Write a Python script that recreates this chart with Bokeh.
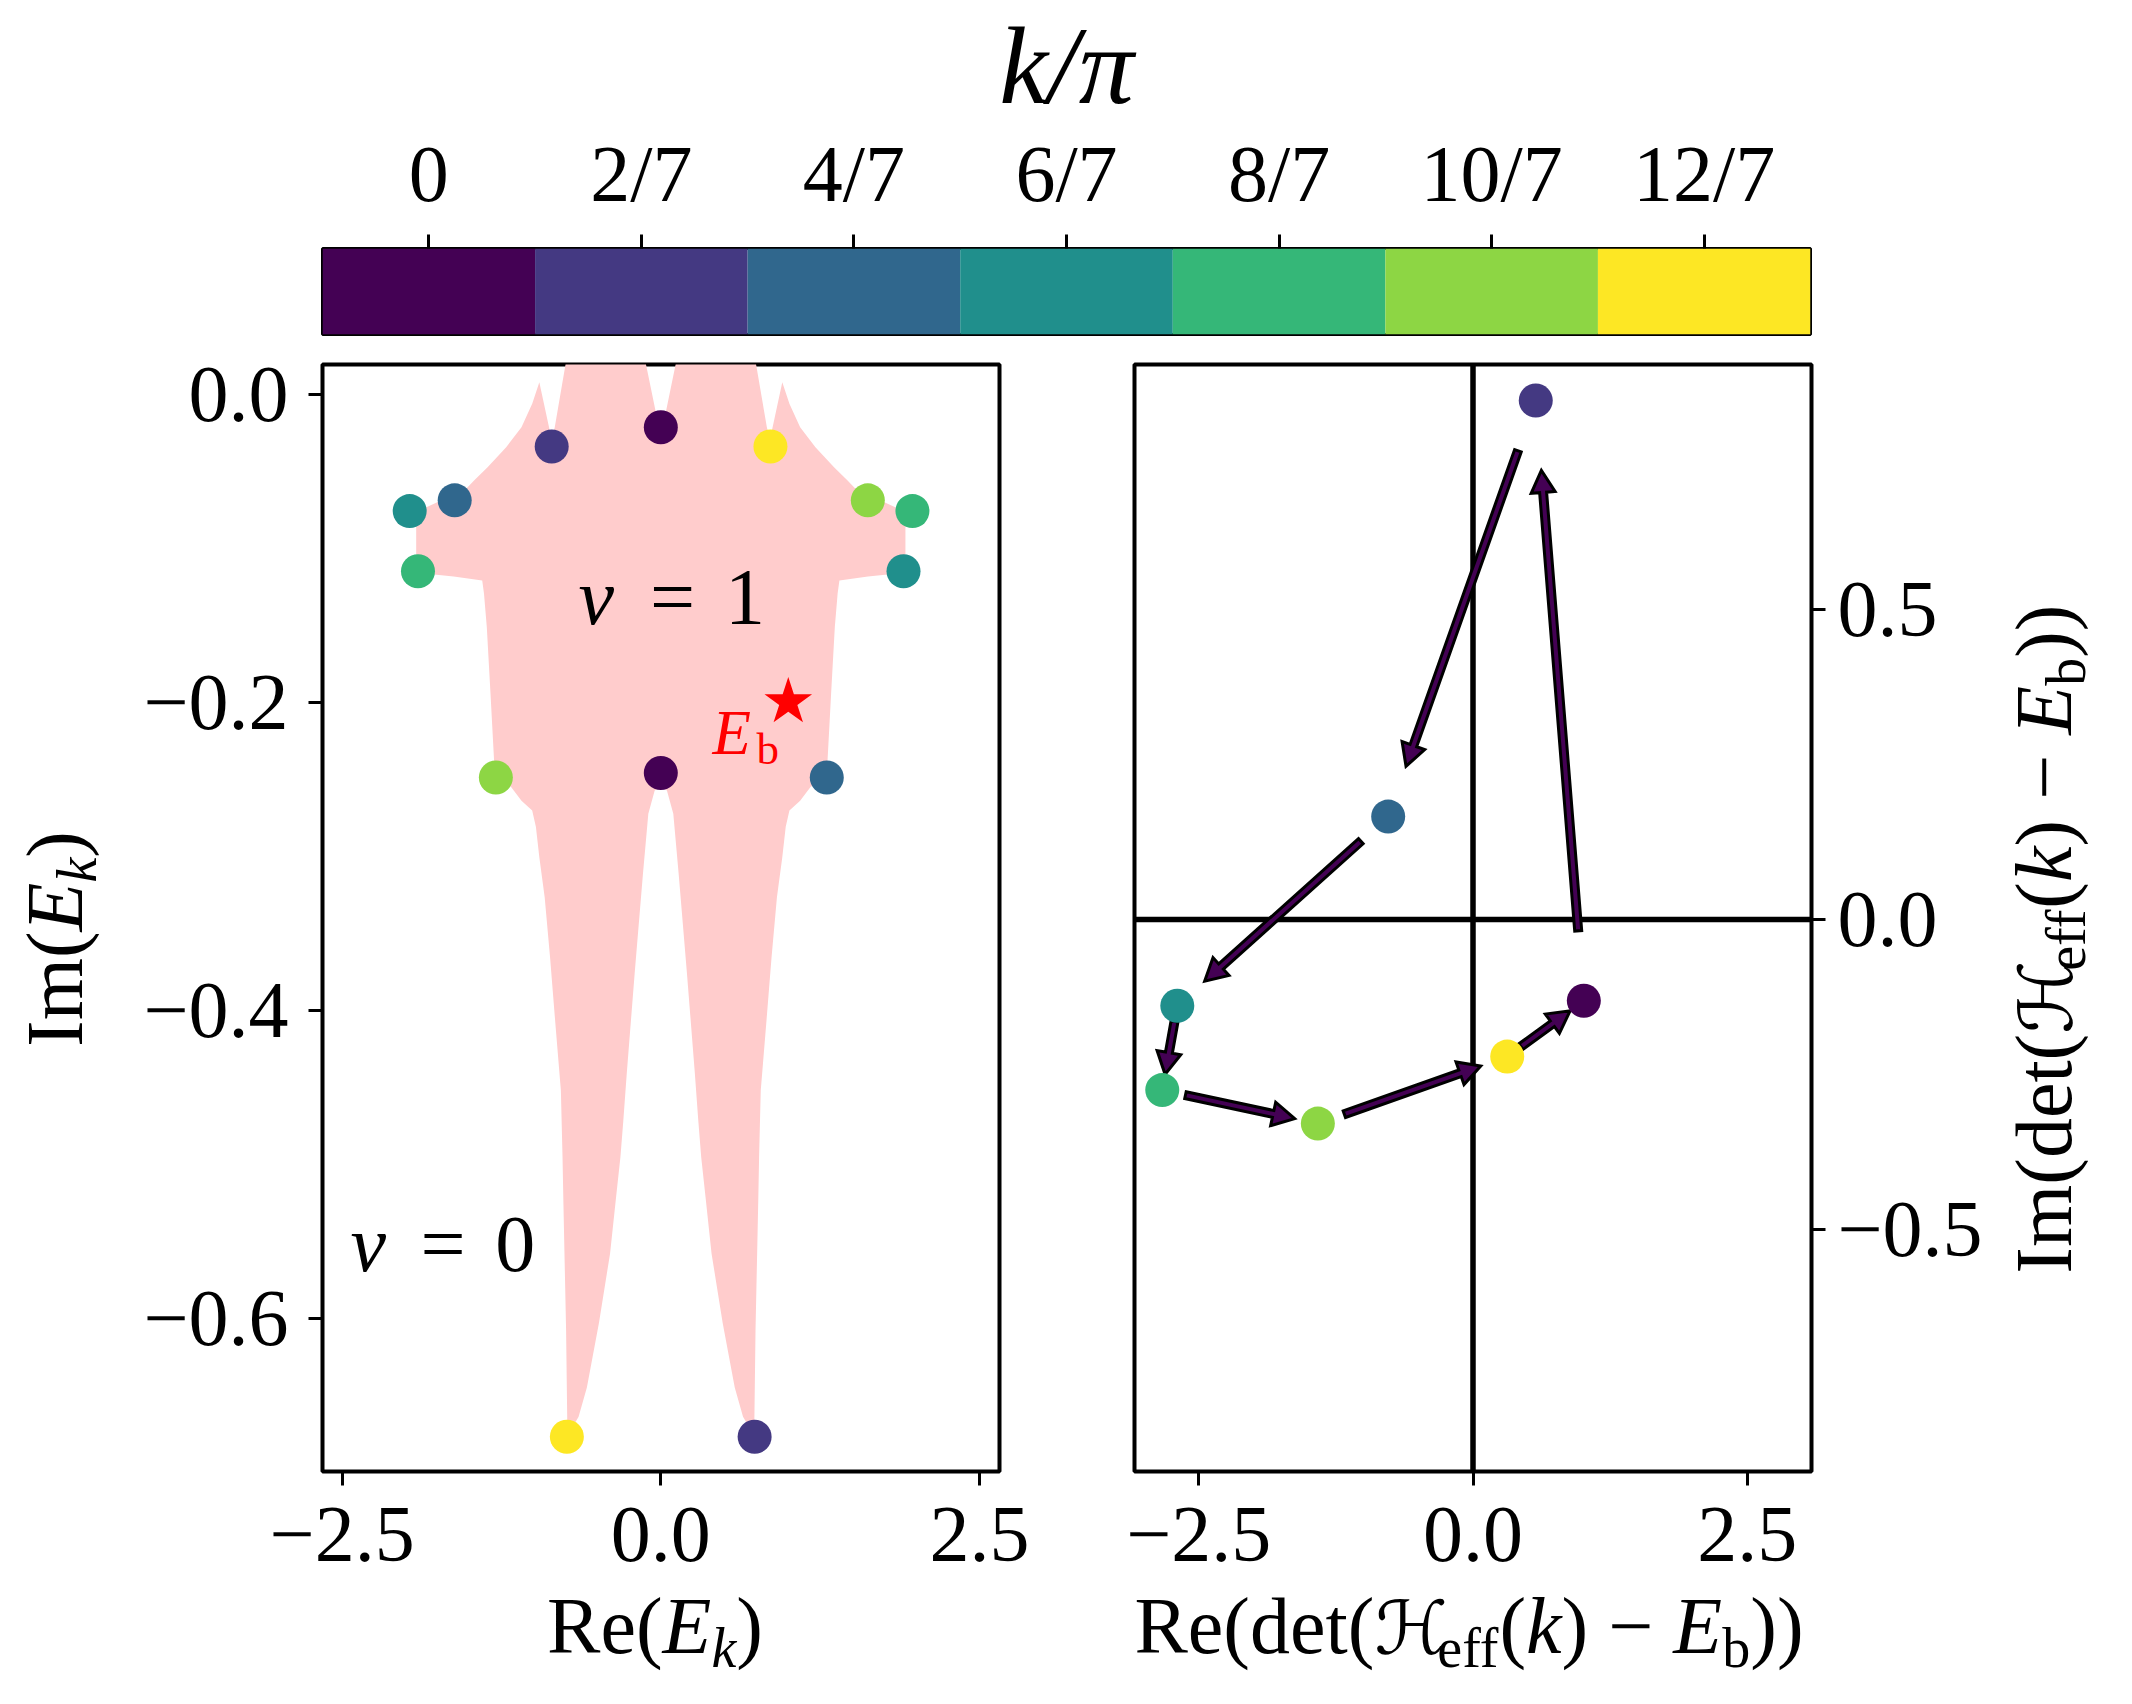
import math
from bokeh.plotting import figure
from bokeh.layouts import column, row
from bokeh.models import Range1d, FixedTicker, Label, Span
from bokeh.palettes import Viridis7
from bokeh.embed import file_html
from bokeh.resources import INLINE

# ---------------- data ----------------
k_over_pi = [0, 2/7, 4/7, 6/7, 8/7, 10/7, 12/7]
k_tick_labels = ["0", "2/7", "4/7", "6/7", "8/7", "10/7", "12/7"]

# spectrum E_k, two bands, same k order as k_over_pi
band_a_re = [0.0, -0.856, -1.617, -1.970, 1.974, 1.624, 0.860]
band_a_im = [-0.0215, -0.034, -0.069, -0.076, -0.076, -0.069, -0.034]
band_b_re = [0.0, 0.736, 1.302, 1.904, -1.905, -1.294, -0.737]
band_b_im = [-0.246, -0.677, -0.249, -0.115, -0.115, -0.249, -0.677]

# reference energy
E_b_re = 1.0
E_b_im = -0.2

# det(H_eff(k) - E_b)
det_re = [1.010, 0.572, -0.773, -2.695, -2.832, -1.414, 0.312]
det_im = [-0.131, 0.837, 0.166, -0.139, -0.275, -0.329, -0.221]

# winding-number-1 region (left half of its outline; the region is mirror symmetric in Re)
region_re_left = [0.0, -0.042, -0.112, -0.168, -0.704, -0.751, -0.832, -0.856, -0.877, -0.953,
                  -1.009, -1.093, -1.213, -1.359, -1.465, -1.527, -1.639, -1.835, -1.919, -1.919,
                  -1.905, -1.779, -1.625, -1.401, -1.387, -1.365, -1.336, -1.308, -1.294, -1.176,
                  -1.093, -1.009, -0.980, -0.953, -0.911, -0.869, -0.827, -0.784, -0.771, -0.765,
                  -0.743, -0.734, -0.737, -0.645, -0.580, -0.485, -0.398, -0.351, -0.317, -0.294,
                  -0.267, -0.205, -0.140, -0.098, -0.048, 0.0]
region_im_left = [-0.022, -0.0106, 0.0175, 0.04, 0.04, 0.0175, -0.0215, -0.030, -0.0215, 0.0077,
                  -0.0063, -0.0215, -0.0345, -0.0475, -0.0561, -0.0615, -0.0658, -0.0734, -0.0767, -0.108,
                  -0.1167, -0.1171, -0.1184, -0.121, -0.1297, -0.1514, -0.1946, -0.238, -0.249, -0.255,
                  -0.264, -0.2704, -0.281, -0.3007, -0.3267, -0.3656, -0.4089, -0.4522, -0.4955, -0.5215,
                  -0.608, -0.6665, -0.677, -0.664, -0.645, -0.603, -0.558, -0.5215, -0.4955, -0.4717,
                  -0.441, -0.376, -0.3115, -0.2725, -0.2574, -0.2552]

left_xticks = [-2.5, 0.0, 2.5]
left_yticks = [-0.6, -0.4, -0.2, 0.0]
right_xticks = [-2.5, 0.0, 2.5]
right_yticks = [-0.5, 0.0, 0.5]

# ---------------- style / layout ----------------
FONT = "Liberation Serif"
PINK = "#FFCCCC"
ARROW_FILL = Viridis7[0]
CB_W, CB_H = 1488, 86
PW, PH = 677, 1107
BOTTOM = 106
XLAB_H = 127
L_XR = (-2.654, 2.657)
L_YR = (-0.6996, 0.0192)
R_XR = (-3.085, 3.085)
R_YR = (-0.890, 0.895)
BASE_C = 0.375   # label anchor sits this many em above the rendered baseline
DOT = 34

REG = {'R': .667, 'e': .444, '(': .333, ')': .333, 'I': .333, 'm': .778, 'd': .5, 't': .278,
       'f': .333, 'b': .5, ' ': .25, '\u2212': .564, 'k': .5, 'E': .611}
ITA = {'E': .611, 'k': .444}


def tick_text(v, nd=1):
    s = f"{abs(v):.{nd}f}"
    return ("\u2212" + s) if v < -1e-12 else s


def style_axes(p):
    p.grid.visible = False
    p.outline_line_color = "black"
    p.outline_line_width = 4
    p.background_fill_color = "white"
    p.border_fill_color = "white"
    for ax in p.axis:
        ax.axis_line_color = None
        ax.major_tick_line_color = "black"
        ax.major_tick_line_width = 3
        ax.major_tick_out = 14
        ax.major_tick_in = 0
        ax.minor_tick_line_color = None
        ax.major_label_text_font = FONT
        ax.major_label_text_font_size = "80px"
        ax.major_label_text_color = "black"


def text_fig(w, h):
    f = figure(frame_width=w, frame_height=h, x_range=Range1d(0, w), y_range=Range1d(0, h),
               x_axis_location=None, y_axis_location=None, output_backend="svg",
               toolbar_location=None, min_border=0)
    f.grid.visible = False
    f.outline_line_color = None
    f.background_fill_color = "white"
    f.border_fill_color = "white"
    return f


def math_label(p, segs, x, y, angle=0.0):
    """segs: (text, style, size_px, drop_px, font, width_em or None); x, y = baseline centre (px)."""
    widths = []
    for text, style, size, drop, font, wem in segs:
        if wem is not None:
            widths.append(wem * size)
        else:
            tab = ITA if style == "italic" else REG
            widths.append(sum(tab.get(c, 0.5) for c in text) * size)
    pos = -sum(widths) / 2
    for (text, style, size, drop, font, wem), w in zip(segs, widths):
        if angle == 0:
            lx, ly = x + pos, y - drop + BASE_C * size
        else:
            lx, ly = x + drop - BASE_C * size, y + pos
        p.add_layout(Label(x=lx, y=ly, text=text,
                           text_font=font, text_font_size=f"{size}px", text_font_style=style,
                           text_color="black", text_align="left", text_baseline="alphabetic",
                           angle=angle))
        pos += w


def data_label(p, text, x, y, size, sy, style="normal", color="black", align="center"):
    p.add_layout(Label(x=x, y=y + BASE_C * size / sy, text=text, text_font=FONT,
                       text_font_size=f"{size}px", text_font_style=style, text_color=color,
                       text_align=align, text_baseline="alphabetic"))


N, I = "normal", "italic"
S = 80
SS = 56
DROP = 13

# ---------------- colour bar ----------------
cb = figure(frame_width=CB_W, frame_height=CB_H, x_range=Range1d(-1/7, 13/7), y_range=Range1d(0, 1),
            x_axis_location="above", output_backend="svg", toolbar_location=None,
            min_border_left=322, min_border_right=322, min_border_top=248, min_border_bottom=15)
half = 1 / 7
cb.quad(left=[k - half for k in k_over_pi], right=[k + half for k in k_over_pi],
        bottom=0, top=1, fill_color=list(Viridis7), line_color=None)
style_axes(cb)
cb.outline_line_width = 3
cb.yaxis.visible = False
cb.xaxis.ticker = FixedTicker(ticks=k_over_pi)
cb.xaxis.major_label_overrides = {k: t for k, t in zip(k_over_pi, k_tick_labels)}
cb.xaxis.major_label_standoff = 17
cb.xaxis.axis_label = "k/\u03c0"
cb.xaxis.axis_label_text_font = FONT
cb.xaxis.axis_label_text_font_style = "italic"
cb.xaxis.axis_label_text_font_size = "110px"
cb.xaxis.axis_label_text_color = "black"
cb.xaxis.axis_label_standoff = 0

# ---------------- left panel: spectrum ----------------
left = figure(frame_width=PW, frame_height=PH, x_range=Range1d(*L_XR), y_range=Range1d(*L_YR),
              output_backend="svg", toolbar_location=None,
              min_border_left=194, min_border_right=67, min_border_top=15, min_border_bottom=BOTTOM)
style_axes(left)
reg_x = region_re_left + [-v for v in reversed(region_re_left)][1:-1]
reg_y = region_im_left + list(reversed(region_im_left))[1:-1]
left.patch(reg_x, reg_y, fill_color=PINK, line_color=None)
left.scatter(band_a_re, band_a_im, size=DOT, fill_color=list(Viridis7), line_color=None)
left.scatter(band_b_re, band_b_im, size=DOT, fill_color=list(Viridis7), line_color=None)
left.scatter([E_b_re], [E_b_im], marker="star", size=50, fill_color="red", line_color=None)
left.xaxis.ticker = FixedTicker(ticks=left_xticks)
left.xaxis.major_label_overrides = {v: tick_text(v) for v in left_xticks}
left.yaxis.ticker = FixedTicker(ticks=left_yticks)
left.yaxis.major_label_overrides = {v: tick_text(v) for v in left_yticks}
left.xaxis.major_label_standoff = 22
left.yaxis.major_label_standoff = 20

lsx = PW / (L_XR[1] - L_XR[0])
lsy = PH / (L_YR[1] - L_YR[0])
# E_b label
data_label(left, "E", 0.405, -0.2353, 63, lsy, style=I, color="red", align="left")
data_label(left, "b", 0.405 + 44 / lsx, -0.2353 - 9 / lsy, 45, lsy, color="red", align="left")
# winding numbers
data_label(left, "\u03bd", -0.507, -0.1514, 80, lsy, style=I)
data_label(left, "=", 0.092, -0.1514, 80, lsy)
data_label(left, "1", 0.660, -0.1514, 80, lsy)
data_label(left, "\u03bd", -2.296, -0.5714, 80, lsy, style=I)
data_label(left, "=", -1.709, -0.5714, 80, lsy)
data_label(left, "0", -1.141, -0.5714, 80, lsy)

# ---------------- right panel: determinant winding ----------------
right = figure(frame_width=PW, frame_height=PH, x_range=Range1d(*R_XR), y_range=Range1d(*R_YR),
               y_axis_location="right", output_backend="svg", toolbar_location=None,
               min_border_left=68, min_border_right=180, min_border_top=15, min_border_bottom=BOTTOM)
style_axes(right)
right.add_layout(Span(location=0, dimension="height", line_color="black", line_width=5.5, level="underlay"))
right.add_layout(Span(location=0, dimension="width", line_color="black", line_width=5.5, level="underlay"))

rsx = PW / (R_XR[1] - R_XR[0])
rsy = PH / (R_YR[1] - R_YR[0])
W_SHAFT, W_HEAD, L_HEAD = 3.5, 12.0, 22.0
axs, ays = [], []
n = len(det_re)
for i in range(n):
    j = (i + 1) % n
    X0, Y0 = det_re[i] * rsx, det_im[i] * rsy
    X1, Y1 = det_re[j] * rsx, det_im[j] * rsy
    dx, dy = X1 - X0, Y1 - Y0
    L = math.hypot(dx, dy)
    ux, uy = dx / L, dy / L
    off = 7 + 0.105 * L
    tx, ty = X0 + ux * off, Y0 + uy * off
    hx, hy = X1 - ux * off, Y1 - uy * off
    nx, ny = -uy, ux
    bx, by = hx - ux * L_HEAD, hy - uy * L_HEAD
    pts = [(tx + nx * W_SHAFT, ty + ny * W_SHAFT), (bx + nx * W_SHAFT, by + ny * W_SHAFT),
           (bx + nx * W_HEAD, by + ny * W_HEAD), (hx, hy),
           (bx - nx * W_HEAD, by - ny * W_HEAD), (bx - nx * W_SHAFT, by - ny * W_SHAFT),
           (tx - nx * W_SHAFT, ty - ny * W_SHAFT)]
    axs.append([q[0] / rsx for q in pts])
    ays.append([q[1] / rsy for q in pts])
right.patches(axs, ays, fill_color=ARROW_FILL, line_color="black", line_width=3, line_join="miter")
right.scatter(det_re, det_im, size=DOT, fill_color=list(Viridis7), line_color=None)
right.xaxis.ticker = FixedTicker(ticks=right_xticks)
right.xaxis.major_label_overrides = {v: tick_text(v) for v in right_xticks}
right.yaxis.ticker = FixedTicker(ticks=right_yticks)
right.yaxis.major_label_overrides = {v: tick_text(v) for v in right_yticks}
right.xaxis.major_label_standoff = 22
right.yaxis.major_label_standoff = 12

# ---------------- axis titles (in their own text strips) ----------------
ROW_H = 15 + PH + BOTTOM
ylab_l = text_fig(128, ROW_H)
ylab_r = text_fig(141, ROW_H)
xlab_l = text_fig(1066, XLAB_H)
xlab_r = text_fig(1066, XLAB_H)

det_segs = [("\u210b", N, 74, 0, "DejaVu Sans", 0.85),
            ("eff", N, SS, DROP, FONT, None), ("(", N, S, 0, FONT, None),
            ("k", I, S, 0, FONT, None), (") \u2212 ", N, S, 0, FONT, None),
            ("E", I, S, 0, FONT, None), ("b", N, SS, DROP, FONT, None),
            ("))", N, S, 0, FONT, None)]
ek_segs = [("E", I, S, 0, FONT, None), ("k", I, SS, DROP, FONT, None), (")", N, S, 0, FONT, None)]

XBASE = 49   # baseline height of the x titles inside their strip
math_label(xlab_l, [("Re(", N, S, 0, FONT, None)] + ek_segs, 654.5, XBASE)
math_label(xlab_r, [("Re(det(", N, S, 0, FONT, None)] + det_segs, 402.5, XBASE)
math_label(ylab_l, [("Im(", N, S, 0, FONT, None)] + ek_segs, 84, ROW_H + 349 - 923.5, angle=math.pi / 2)
math_label(ylab_r, [("Im(det(", N, S, 0, FONT, None)] + det_segs, 82, ROW_H + 349 - 923.6, angle=math.pi / 2)

layout = column(cb, row(ylab_l, left, right, ylab_r), row(xlab_l, xlab_r))
open("out.html", "w").write(file_html(layout, INLINE))
